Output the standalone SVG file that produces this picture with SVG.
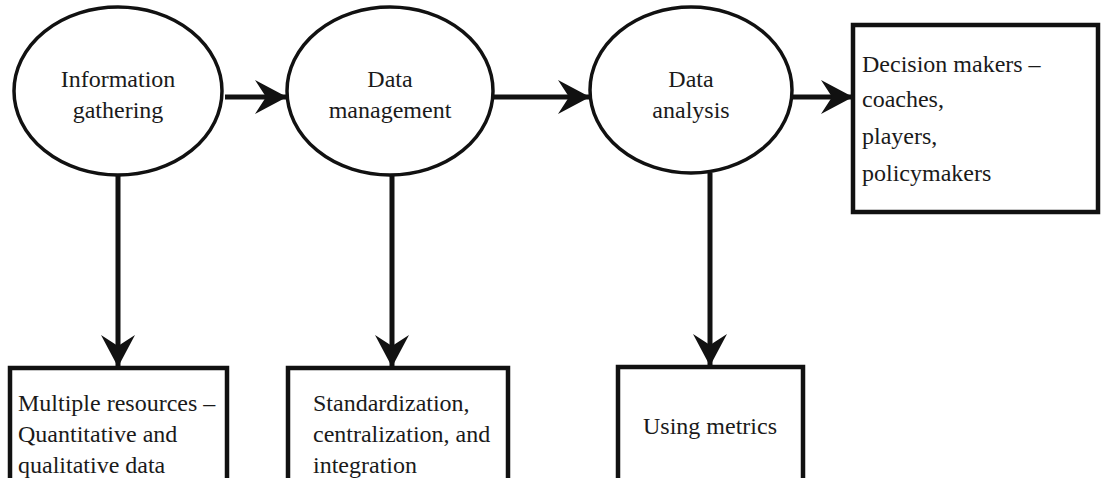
<svg xmlns="http://www.w3.org/2000/svg" width="1101" height="478" viewBox="0 0 1101 478">
<style>
.shape{fill:#fff;stroke:#111;stroke-width:3.5}
rect.shape{stroke-width:4.5}
text{font-family:'Liberation Serif','Times New Roman',Times,serif;font-size:24px;fill:#1a1a1a}
.c{text-anchor:middle}
.edge{stroke:#111;stroke-width:5;fill:none}
</style>
<defs>
<marker id="ah" markerUnits="userSpaceOnUse" markerWidth="36" markerHeight="38" viewBox="-34 -19 36 38" refX="0" refY="0" orient="auto">
<path d="M0,0 L-32,-17 L-21,0 L-32,17 Z" fill="#111"/>
</marker>
</defs>
<rect width="1101" height="478" fill="#fff"/>
<g id="connectors">
<line class="edge" x1="225" y1="97" x2="287" y2="97" marker-end="url(#ah)"/>
<line class="edge" x1="493" y1="97" x2="590" y2="97" marker-end="url(#ah)"/>
<line class="edge" x1="792" y1="97" x2="853" y2="97" marker-end="url(#ah)"/>
<line class="edge" x1="118" y1="175" x2="118" y2="367" marker-end="url(#ah)"/>
<line class="edge" x1="392" y1="175" x2="392" y2="367" marker-end="url(#ah)"/>
<line class="edge" x1="710" y1="173" x2="710" y2="366" marker-end="url(#ah)"/>
</g>
<g id="info-gathering">
<ellipse class="shape" cx="118" cy="91" rx="104" ry="84"/>
<text class="c" x="118" y="87">Information</text>
<text class="c" x="118" y="118">gathering</text>
</g>
<g id="data-management">
<ellipse class="shape" cx="390" cy="91" rx="103" ry="84"/>
<text class="c" x="390" y="87">Data</text>
<text class="c" x="390" y="118">management</text>
</g>
<g id="data-analysis">
<ellipse class="shape" cx="691" cy="90" rx="101" ry="83"/>
<text class="c" x="691" y="87">Data</text>
<text class="c" x="691" y="118">analysis</text>
</g>
<g id="decision-makers">
<rect class="shape" x="853" y="25" width="245" height="187"/>
<text x="862" y="72">Decision makers –</text>
<text x="862" y="107">coaches,</text>
<text x="862" y="144">players,</text>
<text x="862" y="181">policymakers</text>
</g>
<g id="multiple-resources">
<rect class="shape" x="10" y="368" width="217" height="120"/>
<text x="18" y="411">Multiple resources –</text>
<text x="18" y="442">Quantitative and</text>
<text x="18" y="473">qualitative data</text>
</g>
<g id="standardization">
<rect class="shape" x="288" y="368" width="220" height="120"/>
<text x="313" y="411">Standardization,</text>
<text x="313" y="442">centralization, and</text>
<text x="313" y="473">integration</text>
</g>
<g id="using-metrics">
<rect class="shape" x="618" y="367" width="185" height="120"/>
<text class="c" x="710" y="434">Using metrics</text>
</g>
</svg>
